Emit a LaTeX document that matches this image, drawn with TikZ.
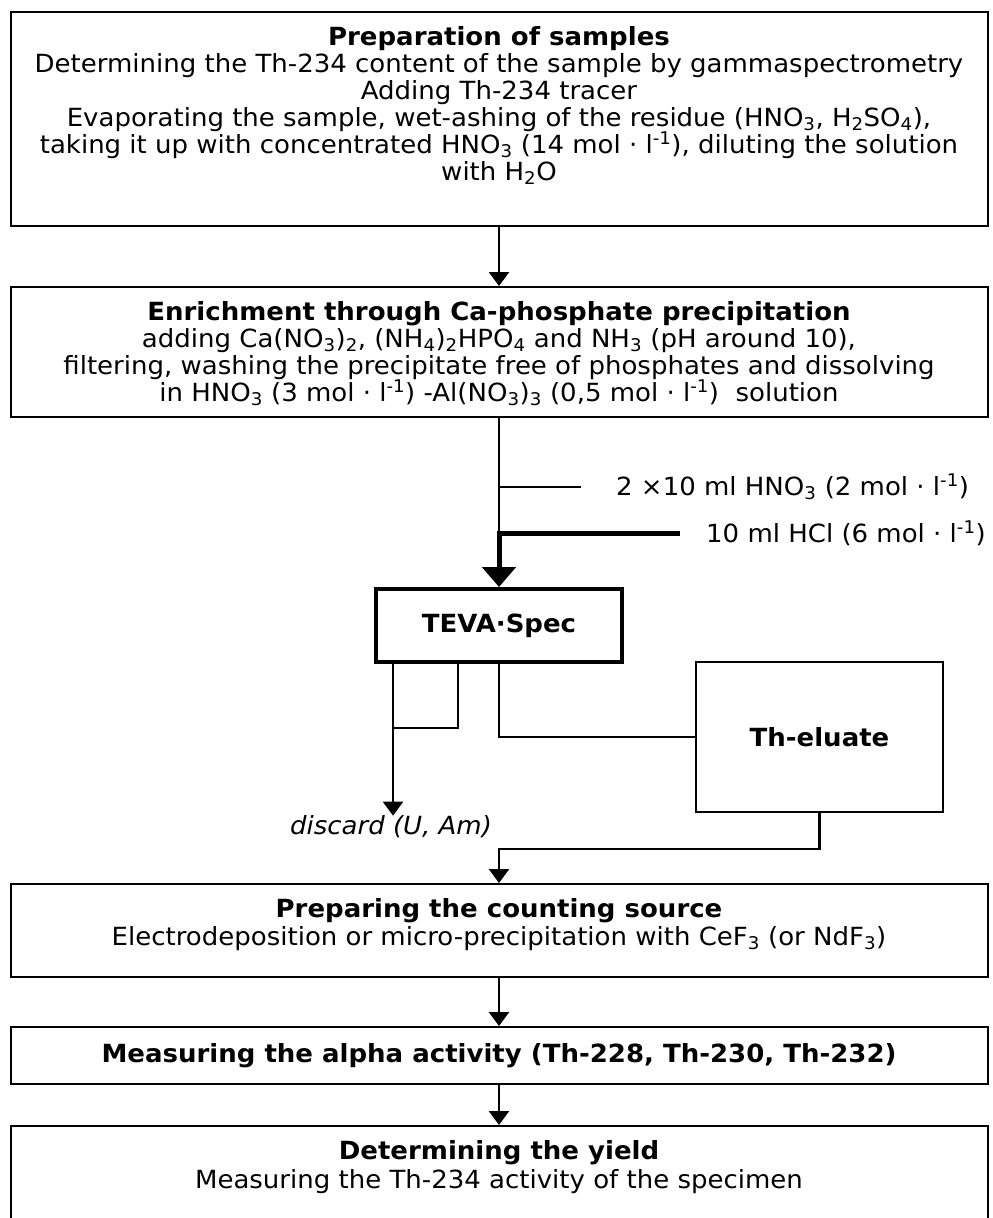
\documentclass[tikz,border=0pt]{standalone}
\usepackage{fontspec}
\setmainfont[FakeStretch=1.04]{DejaVu Sans}
\usetikzlibrary{positioning,arrows.meta}
\begin{document}
\begin{tikzpicture}[x=1pt,y=-1pt,
  font=\fontsize{25pt}{27pt}\selectfont,
  box/.style={draw,line width=2pt,minimum width=977pt,inner sep=0pt,align=center},
  heavy/.style={box,line width=4pt},
  txt/.style={align=center,inner sep=0pt},
  wire/.style={line width=2.4pt},
  arrow/.style={wire,-{Triangle[length=14pt,width=20pt]}},
  bigarrow/.style={line width=5pt,-{Triangle[length=20pt,width=33pt]}}
]
\useasboundingbox (0,0) rectangle (993,1218);
\clip (0,0) rectangle (993,1218);

% boxes of the main flow
\node[box,minimum height=214pt] (prep) at (499,119) {};
\node[txt,below=15pt of prep.north] (preptext) {\textbf{Preparation of samples}\\
  Determining the Th-234 content of the sample by gammaspectrometry\\
  Adding Th-234 tracer\\
  Evaporating the sample, wet-ashing of the residue (HNO\textsubscript{3}, H\textsubscript{2}SO\textsubscript{4}),\\
  taking it up with concentrated HNO\textsubscript{3} (14 mol · l\textsuperscript{-1}), diluting the solution\\
  with H\textsubscript{2}O};

\node[box,minimum height=130pt] (enrich) at (499,352) {};
\node[txt,below=15pt of enrich.north] (enrichtext) {\textbf{Enrichment through Ca-phosphate precipitation}\\
  adding Ca(NO\textsubscript{3})\textsubscript{2}, (NH\textsubscript{4})\textsubscript{2}HPO\textsubscript{4} and NH\textsubscript{3} (pH around 10),\\
  filtering, washing the precipitate free of phosphates and dissolving\\
  in HNO\textsubscript{3} (3 mol · l\textsuperscript{-1}) -Al(NO\textsubscript{3})\textsubscript{3} (0,5 mol · l\textsuperscript{-1})\ \ solution};

% column and its eluents
\node[heavy,minimum width=246pt,minimum height=73pt] (teva) at (499,625.5) {\textbf{TEVA·Spec}};
\coordinate (hno) at (581,487);
\coordinate (hcl) at (680,533);
\node[txt,anchor=west] (hnotext) at (616,487) {2 ×10 ml HNO\textsubscript{3} (2 mol · l\textsuperscript{-1})};
\node[txt,anchor=west] (hcltext) at (706,533) {10 ml HCl (6 mol · l\textsuperscript{-1})};

\node[box,minimum width=247pt,minimum height=150pt] (elu) at (819.5,737) {\textbf{Th-eluate}};
\node[txt] (discard) at (391,827) {\textit{discard (U, Am)}};

\node[box,minimum height=93pt] (count) at (499,930.5) {};
\node[txt,below=15pt of count.north] (counttext) {\textbf{Preparing the counting source}\\[1pt]
  Electrodeposition or micro-precipitation with CeF\textsubscript{3} (or NdF\textsubscript{3})};

\node[box,minimum height=57pt] (meas) at (499,1055.5) {\textbf{Measuring the alpha activity (Th-228, Th-230, Th-232)}};

\node[box,minimum height=110pt] (yield) at (499,1181) {};
\node[txt,below=15pt of yield.north] (yieldtext) {\textbf{Determining the yield}\\[2pt]
  Measuring the Th-234 activity of the specimen};

% connectors
\draw[arrow] (prep.south) -- (enrich.north);
\draw[wire] (enrich.south) -- (enrich.south |- hcl);
\draw[wire] (hno) -- (enrich.south |- hno);
\draw[bigarrow] (hcl) -| (teva.north);

\draw[arrow] ([xshift=19pt]teva.south west) -- ([xshift=19pt]teva.south west |- discard.north);
\draw[line width=2pt] ([xshift=84pt]teva.south west) -- ++(0,64) -- ++(-65,0);
\draw[wire] (teva.south) |- (elu.west);
\draw[arrow] (elu.south) -- ++(0,36) -| (count.north);

\draw[arrow] (count.south) -- (meas.north);
\draw[arrow] (meas.south) -- (yield.north);
\end{tikzpicture}
\end{document}
